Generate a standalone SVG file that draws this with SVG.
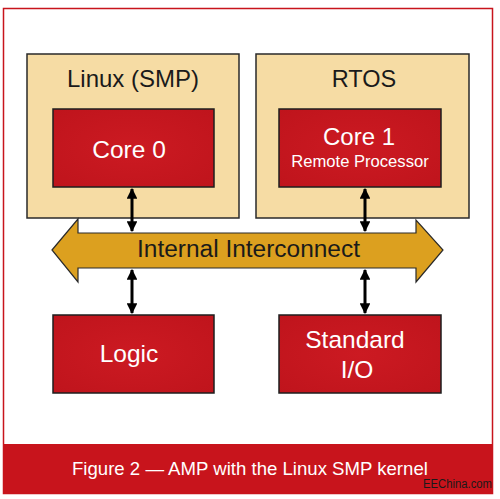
<svg xmlns="http://www.w3.org/2000/svg" width="500" height="499" viewBox="0 0 500 499">
<defs>
<style>
.os{fill:#f6dca4;stroke:#2a2a2a;stroke-width:1.5}
.core{fill:url(#rg);stroke:#1e1e1e;stroke-width:1.5}
.t{font-family:"Liberation Sans",Arial,sans-serif;text-anchor:middle}
.wt{fill:#ffffff}
.bt{fill:#1a1a1a}
.link{stroke:#000;stroke-width:3;marker-start:url(#ah);marker-end:url(#ah)}
</style>
<radialGradient id="rg" cx="0.5" cy="0.5" r="0.7">
<stop offset="0" stop-color="#cc1a22"/>
<stop offset="1" stop-color="#bf141c"/>
</radialGradient>
<marker id="ah" viewBox="0 0 10 10" refX="9" refY="5" markerWidth="3.6" markerHeight="3.6" markerUnits="strokeWidth" orient="auto-start-reverse">
<path d="M0,0 L10,5 L0,10 z" fill="#000"/>
</marker>
</defs>
<rect x="0" y="0" width="500" height="499" fill="#ffffff"/>
<rect x="3.5" y="8.5" width="489" height="485" fill="none" stroke="#c8141c" stroke-width="1.5"/>

<g id="linux">
<rect class="os" x="27" y="54" width="212" height="164"/>
<text class="t bt" x="133" y="87" font-size="24">Linux (SMP)</text>
</g>
<g id="rtos">
<rect class="os" x="256" y="54" width="213" height="164"/>
<text class="t bt" x="364" y="87" font-size="23.5">RTOS</text>
</g>

<g id="interconnect">
<polygon points="52,250 78,219 78,233 416,233 416,220 443,250 416,282 416,268 78,268 78,282" fill="#dca01f" stroke="#2a2a2a" stroke-width="1.2"/>
<text class="t bt" x="248.5" y="257" font-size="23" textLength="223" lengthAdjust="spacingAndGlyphs">Internal Interconnect</text>
</g>

<g id="core0">
<rect class="core" x="53" y="109" width="161" height="78"/>
<text class="t wt" x="129" y="158" font-size="24.5">Core 0</text>
</g>
<g id="core1">
<rect class="core" x="279" y="109" width="162" height="78"/>
<text class="t wt" x="359" y="145" font-size="24">Core 1</text>
<text class="t wt" x="360" y="167" font-size="16.6">Remote Processor</text>
</g>
<g id="logic">
<rect class="core" x="53" y="315" width="161" height="78"/>
<text class="t wt" x="129" y="362" font-size="24.5">Logic</text>
</g>
<g id="stdio">
<rect class="core" x="279" y="315" width="162" height="78"/>
<text class="t wt" x="355" y="348" font-size="24.5">Standard</text>
<text class="t wt" x="357" y="378" font-size="24.5">I/O</text>
</g>

<g id="connectors">
<line class="link" x1="132" y1="189" x2="132" y2="231"/>
<line class="link" x1="365" y1="189" x2="365" y2="231"/>
<line class="link" x1="132" y1="270" x2="132" y2="313"/>
<line class="link" x1="365" y1="270" x2="365" y2="313"/>
</g>

<g id="caption">
<rect x="3" y="444" width="490" height="50" fill="#c8141c"/>
<text x="72" y="475" font-family="'Liberation Sans',Arial,sans-serif" font-size="18.6" fill="#ffffff">Figure 2 — AMP with the Linux SMP kernel</text>
</g>
<text x="423" y="488" font-family="'Liberation Sans',Arial,sans-serif" font-size="12" fill="#1a1a1a" textLength="69" lengthAdjust="spacingAndGlyphs">EEChina.com</text>
</svg>
